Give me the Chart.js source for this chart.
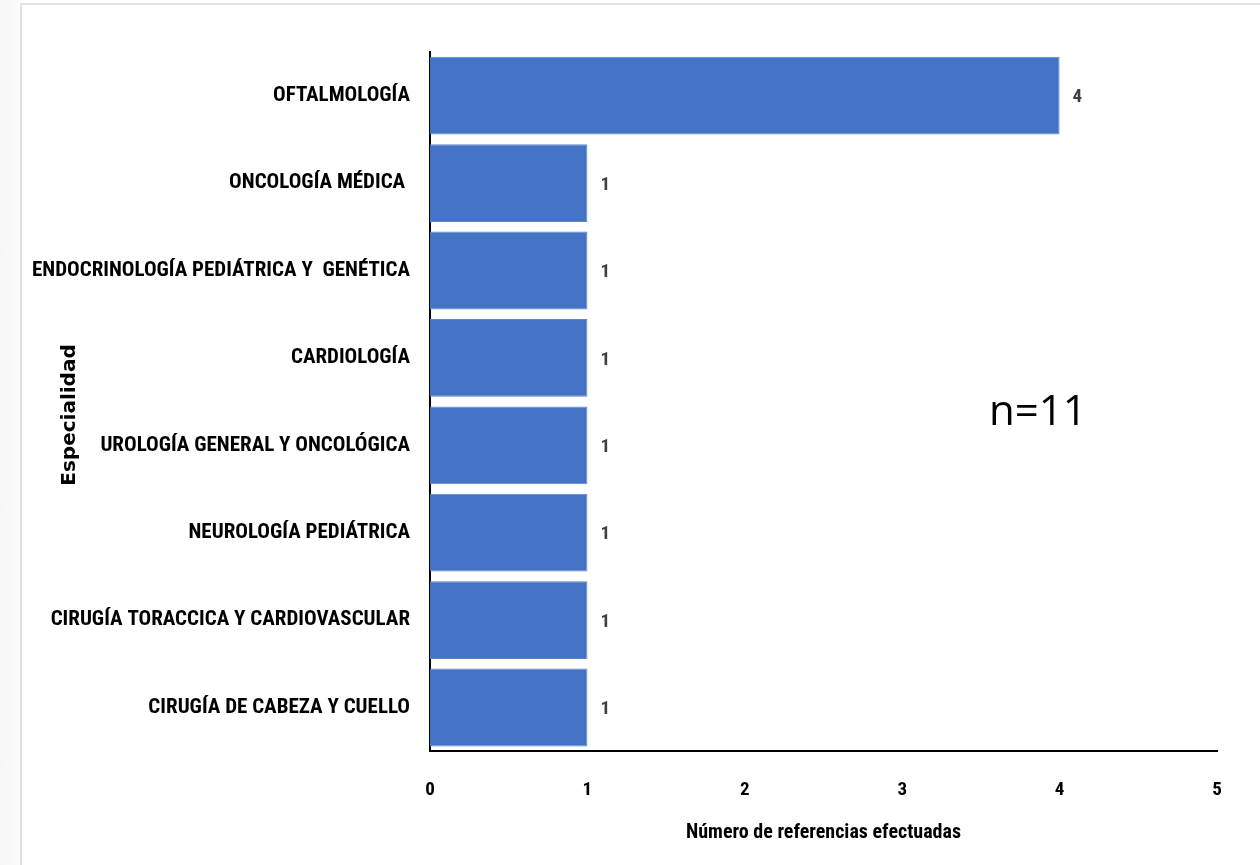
<!DOCTYPE html>
<html>
<head>
<meta charset="utf-8">
<script src="https://cdn.jsdelivr.net/npm/chart.js@4"></script>
<style>
html,body{margin:0;padding:0;background:#fff;width:1260px;height:865px;overflow:hidden;}
#frame{position:absolute;left:20px;top:3px;width:1260px;height:880px;border:2px solid #e2e2e2;box-sizing:border-box;}
#leftshade{position:absolute;left:0;top:0;width:20px;height:865px;background:linear-gradient(to right,#f7f7f7,#fbfbfb);}
#wrap{position:absolute;left:0;top:0;width:1260px;height:865px;}
#ntext{position:absolute;left:989px;top:380px;font-family:"Open Sans","Liberation Sans",sans-serif;font-size:42px;color:#000;}
</style>
</head>
<body>
<div id="leftshade"></div>
<div id="frame"></div>
<div id="wrap"><canvas id="c" width="1260" height="865"></canvas></div>
<div id="ntext">n=11</div>
<script>
const categories = [
  "OFTALMOLOGÍA",
  "ONCOLOGÍA MÉDICA ",
  "ENDOCRINOLOGÍA PEDIÁTRICA Y  GENÉTICA",
  "CARDIOLOGÍA",
  "UROLOGÍA GENERAL Y ONCOLÓGICA",
  "NEUROLOGÍA PEDIÁTRICA",
  "CIRUGÍA TORACCICA Y CARDIOVASCULAR",
  "CIRUGÍA DE CABEZA Y CUELLO"
];
const referencias = [4, 1, 1, 1, 1, 1, 1, 1];
const xTicks = [0, 1, 2, 3, 4, 5];
const yTitle = 'Especialidad';

const labelFont = '"Liberation Sans Narrow","Roboto Condensed","Liberation Sans",sans-serif';

const extras = {
  id: 'extras',
  afterDatasetsDraw(chart) {
    const ctx = chart.ctx;
    const meta = chart.getDatasetMeta(0);
    ctx.save();
    ctx.font = 'bold 19px ' + labelFont;
    ctx.fillStyle = '#404040';
    ctx.textAlign = 'left';
    ctx.textBaseline = 'middle';
    meta.data.forEach((bar, i) => {
      ctx.fillText(String(referencias[i]), bar.x + 13, bar.y + 2);
    });
    ctx.restore();
    // y axis title, placed as in the reference (slightly below the axis centre)
    ctx.save();
    ctx.translate(70, 415);
    ctx.rotate(-Math.PI / 2);
    ctx.font = 'bold 20px "DejaVu Sans","Liberation Sans",sans-serif';
    ctx.fillStyle = '#000';
    ctx.textAlign = 'center';
    ctx.textBaseline = 'middle';
    ctx.fillText(yTitle, 0, 0);
    ctx.restore();
  }
};

new Chart(document.getElementById('c'), {
  type: 'bar',
  data: {
    labels: categories,
    datasets: [{
      data: referencias,
      backgroundColor: '#4472C4',
      borderColor: '#5b86d1',
      borderWidth: 1,
      barPercentage: 0.89,
      categoryPercentage: 1.0
    }]
  },
  options: {
    indexAxis: 'y',
    responsive: false,
    animation: false,
    layout: { padding: { left: 20, right: 43, top: 52, bottom: 20 } },
    plugins: { legend: { display: false }, tooltip: { enabled: false } },
    scales: {
      x: {
        min: 0, max: 5,
        afterBuildTicks(s) { s.ticks = xTicks.map(v => ({ value: v })); },
        grid: { display: false, drawTicks: false },
        border: { display: true, color: '#000', width: 2 },
        ticks: { color: '#000', font: { family: labelFont, size: 19, weight: 'bold' }, padding: 28 },
        title: { display: true, text: 'Número de referencias efectuadas', color: '#000',
                 font: { family: labelFont, size: 20, weight: 'bold' }, padding: { top: -9, bottom: 0 } }
      },
      y: {
        grid: { display: false, drawTicks: false },
        border: { display: true, color: '#000', width: 2 },
        ticks: { color: '#000', font: { family: labelFont, size: 21, weight: 'bold' }, padding: 20, autoSkip: false },
        afterFit(s) { s.width = 410; }
      }
    }
  },
  plugins: [extras]
});
</script>
</body>
</html>
